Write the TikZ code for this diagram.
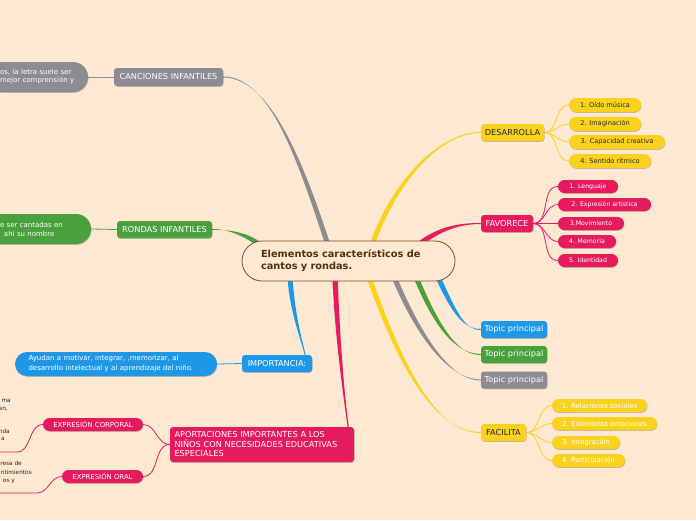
\documentclass[tikz,border=0pt]{standalone}
\usepackage{fontspec}
\setmainfont{DejaVu Sans}
\usetikzlibrary{calc,shadows}
\definecolor{bg}{RGB}{253,232,209}
\definecolor{cyellow}{RGB}{250,210,30}
\definecolor{cpink}{RGB}{230,27,94}
\definecolor{cblue}{RGB}{30,152,230}
\definecolor{cgreen}{RGB}{74,160,60}
\definecolor{cgray}{RGB}{140,140,146}
\definecolor{cbrown}{RGB}{125,80,35}
\definecolor{cbrowntext}{RGB}{88,48,12}
\definecolor{dark}{RGB}{40,40,40}
\pgfdeclarelayer{back}
\pgfdeclarelayer{links}
\pgfsetlayers{back,links,main}
\newcommand\taper[7]{%
  \fill[#1] ($(#2)+(#6)$) .. controls ($(#3)+(#6)$) and ($(#4)+(#7)$) .. ($(#5)+(#7)$)
    -- ($(#5)-(#7)$) .. controls ($(#4)-(#7)$) and ($(#3)-(#6)$) .. ($(#2)-(#6)$) -- cycle;}
\tikzset{
  shad/.style={drop shadow={shadow xshift=0.5pt,shadow yshift=-0.8pt,opacity=0.22,fill=black}},
  mainbox/.style={shad, rounded corners=3pt, inner sep=0pt, minimum height=17pt, text=white, font=\fontsize{8.2}{9}\selectfont},
  pill/.style={shad, rounded corners=6.5pt, inner sep=0pt, minimum height=13pt, text=white, font=\fontsize{6.2}{7}\selectfont},
  ypill/.style={shad, rounded corners=7pt, inner sep=0pt, minimum height=14pt, fill=cyellow, text=dark, font=\fontsize{6.6}{7}\selectfont},
  sidebox/.style={shad, inner sep=0pt, align=left, text=white, font=\fontsize{7}{8}\selectfont},
  cut/.style={anchor=east, inner sep=0pt, text=dark, font=\fontsize{5.8}{7}\selectfont},
  thin/.style={line width=0.8pt},
}
\begin{document}
\begin{tikzpicture}[x=1pt,y=-1pt]
\begin{pgfonlayer}{back}
\fill[bg] (0,0) rectangle (696,520);
\end{pgfonlayer}
\useasboundingbox (0,0) rectangle (696,520);

% central node
\node[draw=cbrown, line width=0.8pt, fill=bg, rounded corners=20pt, minimum width=213pt, minimum height=40pt,
  inner sep=0pt, text width=175pt, align=left, text=cbrowntext, font=\bfseries\fontsize{9.8}{12}\selectfont]
  (center) at (348.5,261) {Elementos característicos de\\cantos y rondas.};

% left side
\node[mainbox, fill=cgray, minimum width=109pt, minimum height=18pt] (canc) at (168.5,77) {CANCIONES INFANTILES};
\node[sidebox, fill=cgray, minimum width=102pt, minimum height=30pt, rounded corners=15pt, text width=74pt] (cancbox) at (37,77) {\mbox{os, la letra suele ser}\\\mbox{mejor comprensión y}};
\node[mainbox, fill=cgreen, minimum width=95pt] (rond) at (164.5,229.5) {RONDAS INFANTILES};
\node[sidebox, fill=cgreen, minimum width=120pt, minimum height=30pt, rounded corners=15pt, text width=62pt, font=\fontsize{7}{9}\selectfont] (rondbox) at (31,229) {\mbox{e ser cantadas en}\\\mbox{\hspace*{4pt}ahí su nombre}};
\node[mainbox, fill=cblue, minimum width=70pt] (imp) at (277,363.5) {IMPORTANCIA:};
\node[sidebox, fill=cblue, minimum width=202pt, minimum height=24pt, rounded corners=12pt, text width=175pt, font=\fontsize{7}{10}\selectfont] (impbox) at (116,364) {Ayudan a motivar, integrar, ,memorizar, al\\desarrollo intelectual y al aprendizaje del niño.};
\node[mainbox, fill=cpink, minimum width=184pt, minimum height=35pt, text width=175pt, align=left, font=\fontsize{8.2}{9.5}\selectfont] (aport) at (262,444.5) {APORTACIONES IMPORTANTES A LOS\\NIÑOS CON NECESIDADES EDUCATIVAS\\ESPECIALES};
\node[pill, fill=cpink, minimum width=100pt, font=\fontsize{6.9}{7}\selectfont] (ecorp) at (93,424.5) {EXPRESIÓN CORPORAL};
\node[pill, fill=cpink, minimum width=81pt, font=\fontsize{6.9}{7}\selectfont] (eoral) at (102.5,476.5) {EXPRESIÓN ORAL};
\coordinate (cc1) at (17,452);
\coordinate (cc2) at (-2,452);
\coordinate (co1) at (37,493);
\coordinate (co2) at (-2,493);
\node[cut] (t1a) at (11,401) {ma};
\node[cut] (t1b) at (8,409) {an,};
\node[cut] (t1c) at (10,431) {nda};
\node[cut] (t1d) at (5,439) {a};
\node[cut] (t2a) at (22,463) {resa de};
\node[cut] (t2b) at (32,472) {ntimientos};
\node[cut] (t2c) at (15,481) {os y};

% right side
\node[mainbox, fill=cyellow, text=dark, minimum width=63pt] (desa) at (512.5,132.5) {DESARROLLA};
\node[ypill, minimum width=72pt] (d1) at (605,105) {1. Oído música};
\node[ypill, minimum width=72pt] (d2) at (605,124) {2. Imaginación};
\node[ypill, minimum width=96pt] (d3) at (617,142) {3. Capacidad creativa};
\node[ypill, minimum width=82pt] (d4) at (610,161) {4. Sentido rítmico};

\node[mainbox, fill=cpink, minimum width=52pt] (fav) at (507,223.5) {FAVORECE};
\node[pill, fill=cpink, minimum width=60pt] (f1) at (588,186.5) {1. Lenguaje};
\node[pill, fill=cpink, minimum width=93pt] (f2) at (604.5,204.5) {2. Expresión artística};
\node[pill, fill=cpink, minimum width=66pt] (f3) at (591,223.5) {3.Movimiento};
\node[pill, fill=cpink, minimum width=58pt] (f4) at (587,241.5) {4. Memoria};
\node[pill, fill=cpink, minimum width=60pt] (f5) at (588,260.5) {5. Identidad};

\node[mainbox, fill=cblue, minimum width=66pt] (tp1) at (514,329.5) {Topic principal};
\node[mainbox, fill=cgreen, minimum width=66pt] (tp2) at (514,354.5) {Topic principal};
\node[mainbox, fill=cgray, minimum width=66pt] (tp3) at (514,380) {Topic principal};

\node[mainbox, fill=cyellow, text=dark, minimum width=45pt] (faci) at (503.5,432.5) {FACILITA};
\node[pill, fill=cyellow, minimum width=95pt, font=\fontsize{6.8}{7}\selectfont] (g1) at (599.5,405.5) {1. Relaciones sociales};
\node[pill, fill=cyellow, minimum width=105pt, font=\fontsize{6.8}{7}\selectfont] (g2) at (604.5,423.5) {2. Exterioriza emociones};
\node[pill, fill=cyellow, minimum width=68pt, font=\fontsize{6.8}{7}\selectfont] (g3) at (586,442.5) {3. Integración};
\node[pill, fill=cyellow, minimum width=73pt, font=\fontsize{6.8}{7}\selectfont] (g4) at (588.5,460.5) {4. Participación};

% start points on the central node
\coordinate (sCanc) at (328,245);
\coordinate (sRond) at (260,245);
\coordinate (sImp) at (290,277);
\coordinate (sAport) at (335,277);
\coordinate (sDesa) at (372,245);
\coordinate (sFav) at (418,245);
\coordinate (sT1) at (438,277);
\coordinate (sT2) at (416,277);
\coordinate (sT3) at (394,277);
\coordinate (sFaci) at (369,277);

\begin{pgfonlayer}{links}
\taper{cgray}{sCanc}{300,160}{270,77}{canc.east}{2.6,0}{0,0.5}
\taper{cgreen}{sRond}{245,233}{225,229}{rond.east}{1.4,-2.0}{0,0.5}
\taper{cblue}{sImp}{292,310}{300,335}{$(imp.north east)+(-7,0)$}{2.5,0}{0.5,0}
\taper{cpink}{sAport}{337,330}{343,390}{$(aport.north east)+(-6,0)$}{2.6,0}{0.6,0}
\taper{cyellow}{sDesa}{395,180}{440,132.5}{desa.west}{2.3,0.9}{0,0.5}
\taper{cpink}{sFav}{440,228}{460,223.5}{fav.west}{1.4,2.1}{0,0.5}
\taper{cblue}{sT1}{455,315}{465,329.5}{tp1.west}{2.3,-1.0}{0,0.5}
\taper{cgreen}{sT2}{440,335}{460,354.5}{tp2.west}{2.3,-0.9}{0,0.5}
\taper{cgray}{sT3}{425,350}{455,380}{tp3.west}{2.3,-1.0}{0,0.5}
\taper{cyellow}{sFaci}{405,380}{440,432.5}{faci.west}{2.35,-0.8}{0,0.5}

\draw[cgray, thin] (canc.west) -- (cancbox.east);
\draw[cgreen, thin] (rond.west) -- (rondbox.east);
\draw[cblue, thin] (imp.west) -- (impbox.east);
\draw[cpink, thin] (aport.west) to[out=180,in=0] (ecorp.east);
\draw[cpink, thin] (aport.west) to[out=180,in=0] (eoral.east);
\draw[cpink, thin] (ecorp.west) to[out=180,in=0] (cc1) -- (cc2);
\draw[cpink, thin] (eoral.west) to[out=180,in=0] (co1) -- (co2);
\foreach \c in {d1,d2,d3,d4} \draw[cyellow, thin] (desa.east) to[out=0,in=180] (\c.west);
\foreach \c in {f1,f2,f3,f4,f5} \draw[cpink, thin] (fav.east) to[out=0,in=180] (\c.west);
\foreach \c in {g1,g2,g3,g4} \draw[cyellow, thin] (faci.east) to[out=0,in=180] (\c.west);
\end{pgfonlayer}
\end{tikzpicture}
\end{document}
